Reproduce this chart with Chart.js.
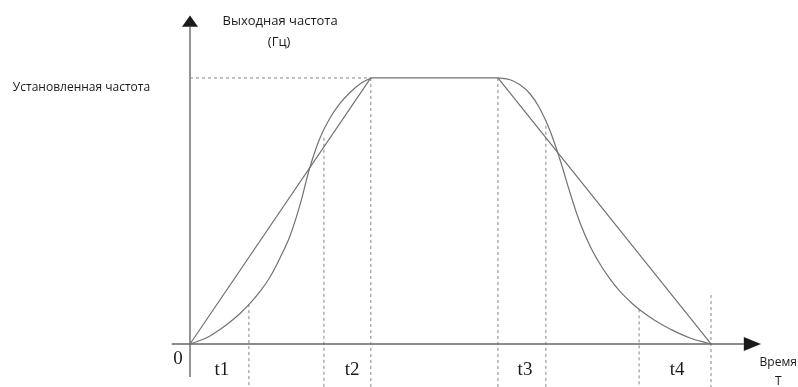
<!DOCTYPE html>
<html>
	<head>
		<style type="text/css">
			body { margin: 0; background: #fff; }
			#wrap { width: 798px; height: 387px; }
		</style>
	</head>
	<body>
		<div id="wrap"><canvas id="myChart" width="798" height="387"></canvas></div>
		<script src="https://cdn.jsdelivr.net/npm/chart.js@4/dist/chart.umd.min.js"></script>
		<script>
		// time in arbitrary units (0 = start, 100 = stop), frequency in % of set value
		var linearT = [0, 34.7, 59.1, 100];
		var linearF = [0, 100, 100, 0];

		// S-curve acceleration and deceleration
		var accelT = [0, 1.92, 3.84, 5.76, 7.68, 9.60, 11.52, 13.44, 15.36, 17.27, 19.19, 21.11, 23.03, 24.95, 26.87, 28.79, 30.71, 32.63, 34.74];
		var accelF = [0, 1.32, 3.01, 5.45, 8.27, 11.47, 15.23, 19.74, 25.19, 32.33, 40.60, 52.26, 66.54, 77.44, 84.96, 90.41, 94.55, 97.74, 100];
		var decelT = [59.12, 61.42, 63.34, 65.26, 67.18, 69.10, 71.02, 72.94, 74.86, 76.78, 78.69, 80.61, 82.53, 84.45, 86.37, 89.25, 92.13, 95.97, 100];
		var decelF = [100, 99.32, 97.44, 94.06, 88.42, 80.15, 69.25, 56.84, 45.56, 36.84, 30.08, 24.44, 19.74, 15.98, 12.78, 8.83, 5.64, 2.26, 0];

		var markT = [11.3, 25.7, 34.7, 59.1, 68.3, 86.2, 100];
		var markTop = [15.0, 77.5, 100, 100, 82.0, 13.0, 18.4];
		var markBottom = -16.2;

		var tickLabels = ["t1", "t2", "t3", "t4"];
		var tickPos = [6.1, 31.1, 64.3, 93.5];

		var setFreqLabel = "Установленная частота";
		var yTitle = ["Выходная частота", "(Гц)"];
		var xTitle = ["Время", "T"];

		function pts(xs, ys) {
			var out = [];
			for (var i = 0; i < xs.length; i++) out.push({x: xs[i], y: ys[i]});
			return out;
		}

		var lineGrey = "#727272";
		var dashGrey = "#9a9a9a";
		var datasets = [
			{data: pts(linearT, linearF), borderColor: lineGrey, borderWidth: 1.2, tension: 0},
			{data: pts(accelT, accelF), borderColor: lineGrey, borderWidth: 1.2, tension: 0.4},
			{data: pts(decelT, decelF), borderColor: lineGrey, borderWidth: 1.2, tension: 0.4},
			{data: pts([0, 34.7], [100, 100]), borderColor: dashGrey, borderWidth: 1.2, borderDash: [3, 3]},
			{data: pts([0, 0], [-12.4, 119.2]), borderColor: "#666", borderWidth: 1.4},
			{data: pts([-3.5, 106.3], [0, 0]), borderColor: "#666", borderWidth: 1.4}
		];
		for (var i = 0; i < markT.length; i++) {
			datasets.push({data: pts([markT[i], markT[i]], [markTop[i], markBottom]), borderColor: dashGrey, borderWidth: 1.2, borderDash: [3, 3]});
		}

		var textPlugin = {
			id: "texts",
			afterDraw: function(chart) {
				var c = chart.ctx;
				var xs = chart.scales.x, ys = chart.scales.y;
				function px(v) { return xs.getPixelForValue(v); }
				function py(v) { return ys.getPixelForValue(v); }
				c.save();
				c.fillStyle = "#1a1a1a";
				// arrow heads
				c.beginPath();
				c.moveTo(px(0), py(123.5));
				c.lineTo(px(0) - 8, py(119.2));
				c.lineTo(px(0) + 8, py(119.2));
				c.closePath();
				c.fill();
				c.beginPath();
				c.moveTo(px(109.6), py(0));
				c.lineTo(px(106.3), py(0) - 7);
				c.lineTo(px(106.3), py(0) + 7);
				c.closePath();
				c.fill();

				c.textBaseline = "middle";
				c.font = "13px 'Open Sans'";
				c.textAlign = "center";
				c.fillText(yTitle[0], px(17.3), py(121.4));
				c.fillText(yTitle[1], px(17.1), py(113.5));
				c.font = "12px 'Open Sans'";
				c.textAlign = "left";
				c.fillText(setFreqLabel, px(-34.0), py(96.2));
				c.textAlign = "center";
				c.fillText(xTitle[0], px(112.9), py(-7.0));
				c.fillText(xTitle[1], px(112.9), py(-14.0));

				c.font = "19px 'Liberation Serif'";
				c.fillText("0", px(-2.3), py(-5.8));
				for (var i = 0; i < tickLabels.length; i++) {
					c.fillText(tickLabels[i], px(tickPos[i]), py(-9.8));
				}
				c.restore();
			}
		};

		var ctx = document.getElementById("myChart").getContext("2d");
		var myChart = new Chart(ctx, {
			type: "scatter",
			data: {datasets: datasets},
			options: {
				responsive: false,
				animation: false,
				showLine: true,
				layout: {padding: 0},
				elements: {point: {radius: 0}},
				plugins: {legend: {display: false}, tooltip: {enabled: false}},
				scales: {
					x: {type: "linear", display: false, min: -36.47, max: 116.7},
					y: {type: "linear", display: false, min: -16.17, max: 129.3}
				}
			},
			plugins: [textPlugin]
		});
		</script>
	</body>
</html>
